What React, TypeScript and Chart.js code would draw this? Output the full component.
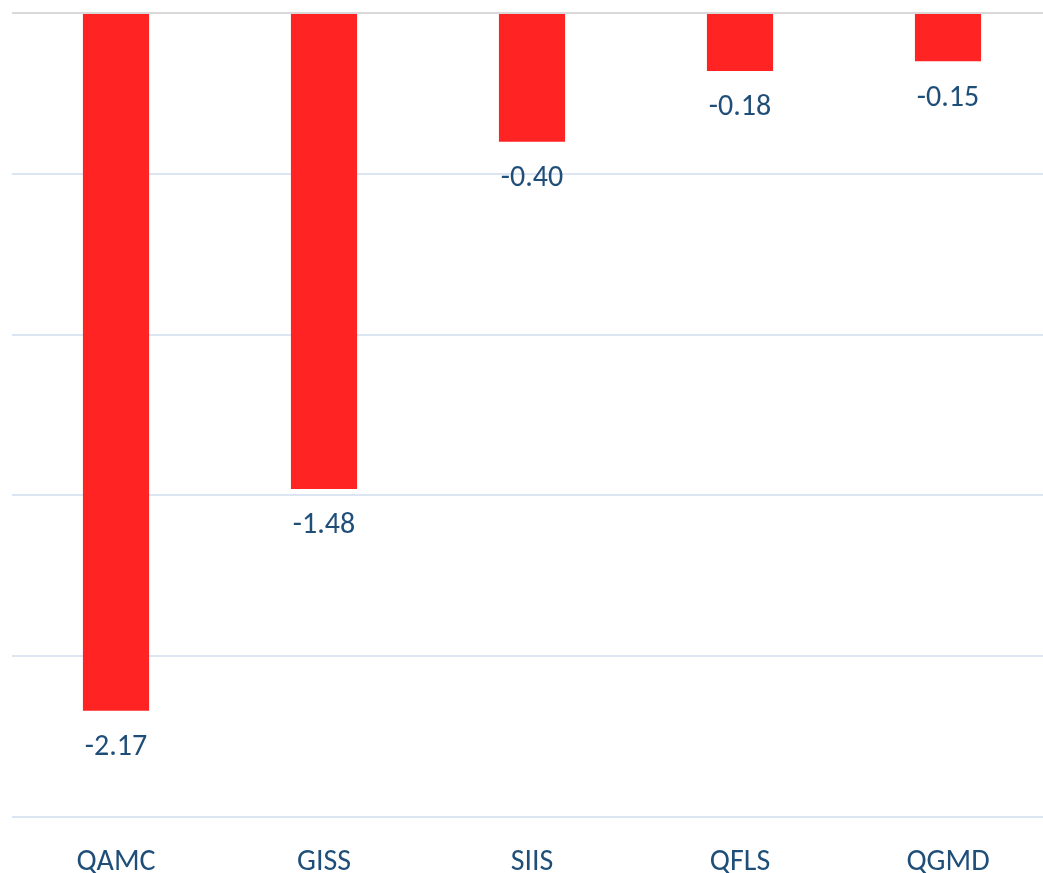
import React, { useEffect, useRef } from "react";
import { Chart, registerables } from "chart.js";

Chart.register(...registerables);

const categories = ["QAMC", "GISS", "SIIS", "QFLS", "QGMD"];
const values = [-2.17, -1.48, -0.4, -0.18, -0.15];
const yMin = -2.5;
const yMax = 0;
const yStep = 0.5;

const TEXT = "#1F4E79";
const FONT = "Calibri, Carlito, 'Open Sans', sans-serif";
const FONT_SIZE = 30;

const labelPlugin = {
  id: "valueLabels",
  afterDatasetsDraw(chart: any) {
    const ctx = chart.ctx;
    const meta = chart.getDatasetMeta(0);
    ctx.save();
    ctx.fillStyle = TEXT;
    ctx.font = `${FONT_SIZE}px ${FONT}`;
    ctx.textAlign = "center";
    ctx.textBaseline = "middle";
    meta.data.forEach((bar: any, i: number) => {
      ctx.fillText(values[i].toFixed(2), bar.x, bar.y + 37);
    });
    ctx.restore();
  },
};

export default function App() {
  const ref = useRef<HTMLCanvasElement>(null);
  useEffect(() => {
    if (!ref.current) return;
    const chart = new Chart(ref.current, {
      type: "bar",
      data: {
        labels: categories,
        datasets: [
          {
            data: values,
            backgroundColor: "#FF2323",
            barPercentage: 1,
            categoryPercentage: 0.318,
          },
        ],
      },
      options: {
        responsive: false,
        animation: false,
        layout: { padding: { left: 12, right: 0, top: 13, bottom: 0 } },
        plugins: { legend: { display: false }, tooltip: { enabled: false } },
        scales: {
          x: {
            grid: { display: false, drawTicks: false },
            border: { display: false },
            ticks: {
              color: TEXT,
              font: { size: FONT_SIZE, family: FONT },
              padding: 27,
            },
            afterFit: (s: any) => {
              s.height = 56;
            },
          },
          y: {
            min: yMin,
            max: yMax,
            ticks: { display: false, stepSize: yStep },
            border: { display: false },
            grid: {
              drawTicks: false,
              lineWidth: 2,
              color: (c: any) => (c.tick && c.tick.value === 0 ? "#D9D9D9" : "#DCE6F2"),
            },
            afterFit: (s: any) => {
              s.width = 0;
            },
          },
        },
      },
      plugins: [labelPlugin],
    });
    return () => chart.destroy();
  }, []);
  return (
    <div style={{ position: "fixed", left: 0, top: 0, width: 1043, height: 873, overflow: "hidden", background: "#fff" }}>
      <canvas ref={ref} width={1052} height={873} style={{ width: 1052, height: 873, display: "block" }} />
    </div>
  );
}
